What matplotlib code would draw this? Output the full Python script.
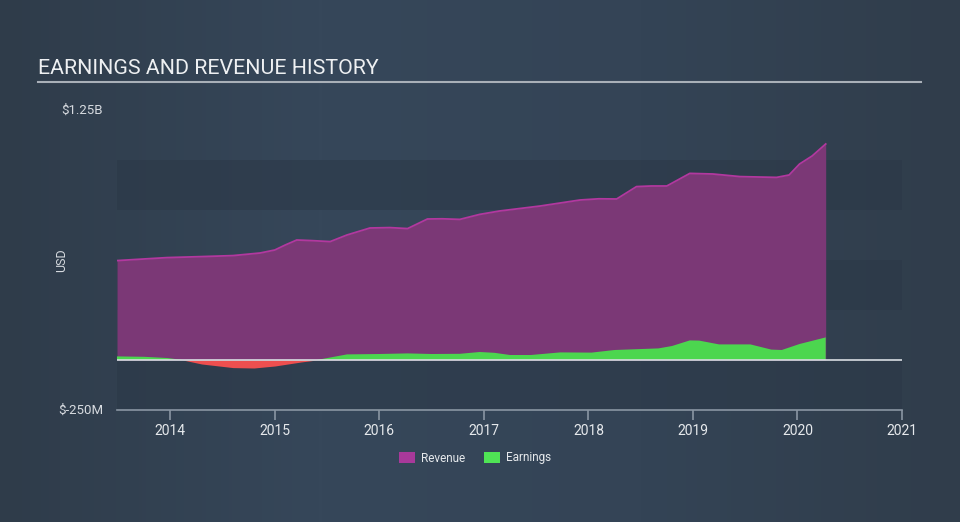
import numpy as np
import matplotlib
matplotlib.use("Agg")
import matplotlib.pyplot as plt
from matplotlib.patches import Patch
from matplotlib.colors import LinearSegmentedColormap

plt.rcParams['font.family'] = ['Roboto', 'DejaVu Sans']

# ---- data (USD billions) ----
rev_t = [2013.49, 2013.97, 2014.30, 2014.60, 2014.86, 2015.00, 2015.10, 2015.21, 2015.35, 2015.53,
         2015.69, 2015.91, 2016.10, 2016.27, 2016.46, 2016.60, 2016.77, 2016.96, 2017.15, 2017.54,
         2017.92, 2018.10, 2018.27, 2018.46, 2018.60, 2018.75, 2018.97, 2019.19, 2019.45, 2019.80,
         2019.92, 2020.02, 2020.14, 2020.27]
rev_v = [0.497, 0.512, 0.517, 0.522, 0.535, 0.550, 0.575, 0.600, 0.597, 0.592,
         0.625, 0.660, 0.662, 0.657, 0.705, 0.706, 0.703, 0.728, 0.745, 0.770,
         0.800, 0.806, 0.805, 0.867, 0.870, 0.870, 0.933, 0.930, 0.917, 0.913,
         0.925, 0.980, 1.020, 1.080]

earn_t = [2013.49, 2013.75, 2013.97, 2014.12, 2014.30, 2014.60, 2014.80, 2015.00, 2015.25, 2015.40,
          2015.69, 2016.00, 2016.27, 2016.50, 2016.77, 2016.96, 2017.10, 2017.25, 2017.45, 2017.73,
          2018.03, 2018.25, 2018.67, 2018.80, 2018.97, 2019.06, 2019.25, 2019.55, 2019.75, 2019.85,
          2020.02, 2020.27]
earn_v = [0.018, 0.016, 0.010, 0.000, -0.020, -0.038, -0.040, -0.030, -0.010, 0.000,
          0.028, 0.030, 0.033, 0.030, 0.031, 0.040, 0.036, 0.025, 0.025, 0.038,
          0.037, 0.050, 0.058, 0.070, 0.098, 0.097, 0.078, 0.078, 0.052, 0.050,
          0.080, 0.113]

x_ticks = [2014, 2015, 2016, 2017, 2018, 2019, 2020, 2021]
y_labels = ["$1.25B", "$-250M"]

# ---- figure ----
fig = plt.figure(figsize=(9.6, 5.22), dpi=100)
bg = fig.add_axes([0, 0, 1, 1])
bg.set_axis_off()
cmap = LinearSegmentedColormap.from_list("bg", ["#2f3c4a", "#36475a", "#344456", "#303d4b"])
grad = np.linspace(0, 1, 256).reshape(1, -1)
bg.imshow(grad, aspect='auto', cmap=cmap, extent=[0, 1, 0, 1])
bg.set_xlim(0, 1); bg.set_ylim(0, 1)

ax = fig.add_axes([117/960, 1-410/522, (902-117)/960, 300/522])
ax.set_facecolor('none')
ax.set_xlim(2013.49, 2021.0)
ax.set_ylim(-0.25, 1.25)

for lo, hi in [(0.75, 1.0), (0.25, 0.5), (-0.25, 0.0)]:
    ax.axhspan(lo, hi, color='#2b3847', alpha=0.55, lw=0, zorder=0)

rt = np.array(rev_t); rv = np.array(rev_v)
ax.fill_between(rt, 0, rv, color='#7b3876', lw=0, zorder=2)
ax.plot(rt, rv, color='#b2389f', lw=1.3, zorder=3)

et = np.array(earn_t); ev = np.array(earn_v)
ax.fill_between(et, 0, ev, where=ev >= 0, interpolate=True, color='#4cd64f', lw=0, zorder=4)
ax.fill_between(et, 0, ev, where=ev <= 0, interpolate=True, color='#ee4f4f', lw=0, zorder=4)

ax.axhline(0, color='#d8dde2', lw=1.2, zorder=5)

for s in ['top', 'right', 'left']:
    ax.spines[s].set_visible(False)
ax.spines['bottom'].set_color('#8a96a3')
ax.spines['bottom'].set_linewidth(1.2)
ax.set_yticks([])
ax.set_xticks(x_ticks)
ax.set_xticklabels([str(t) for t in x_ticks])
ax.tick_params(axis='x', colors='#8a96a3', length=7, width=1.2, labelcolor='#e6e9ec',
               labelsize=10, pad=3)

# y labels
fig.text(103/960, 1-110/522, y_labels[0], ha='right', va='center', color='#d7dbe0', fontsize=9.5)
fig.text(103/960, 1-410/522, y_labels[1], ha='right', va='center', color='#d7dbe0', fontsize=9.5)
fig.text(62/960, 1-260/522, "USD", rotation=90, ha='center', va='center', color='#d7dbe0', fontsize=9)

# title
fig.text(38/960, 1-68/522, "EARNINGS AND REVENUE HISTORY", ha='left', va='center',
         color='#eef0f2', fontsize=15.4)
bg.plot([38/960, 921/960], [1-81.5/522, 1-81.5/522], color='#a9b0b8', lw=1.5)

handles = [Patch(facecolor='#a8399a', label='Revenue'), Patch(facecolor='#4fe455', label='Earnings')]
fig.legend(handles=handles, loc='center', bbox_to_anchor=(475/960, 1-458/522), ncol=2,
           frameon=False, labelcolor='#e6e9ec', fontsize=8.5, handlelength=1.4, handleheight=1.1,
           columnspacing=1.6, handletextpad=0.5)

fig.savefig("out.png", dpi=100)
